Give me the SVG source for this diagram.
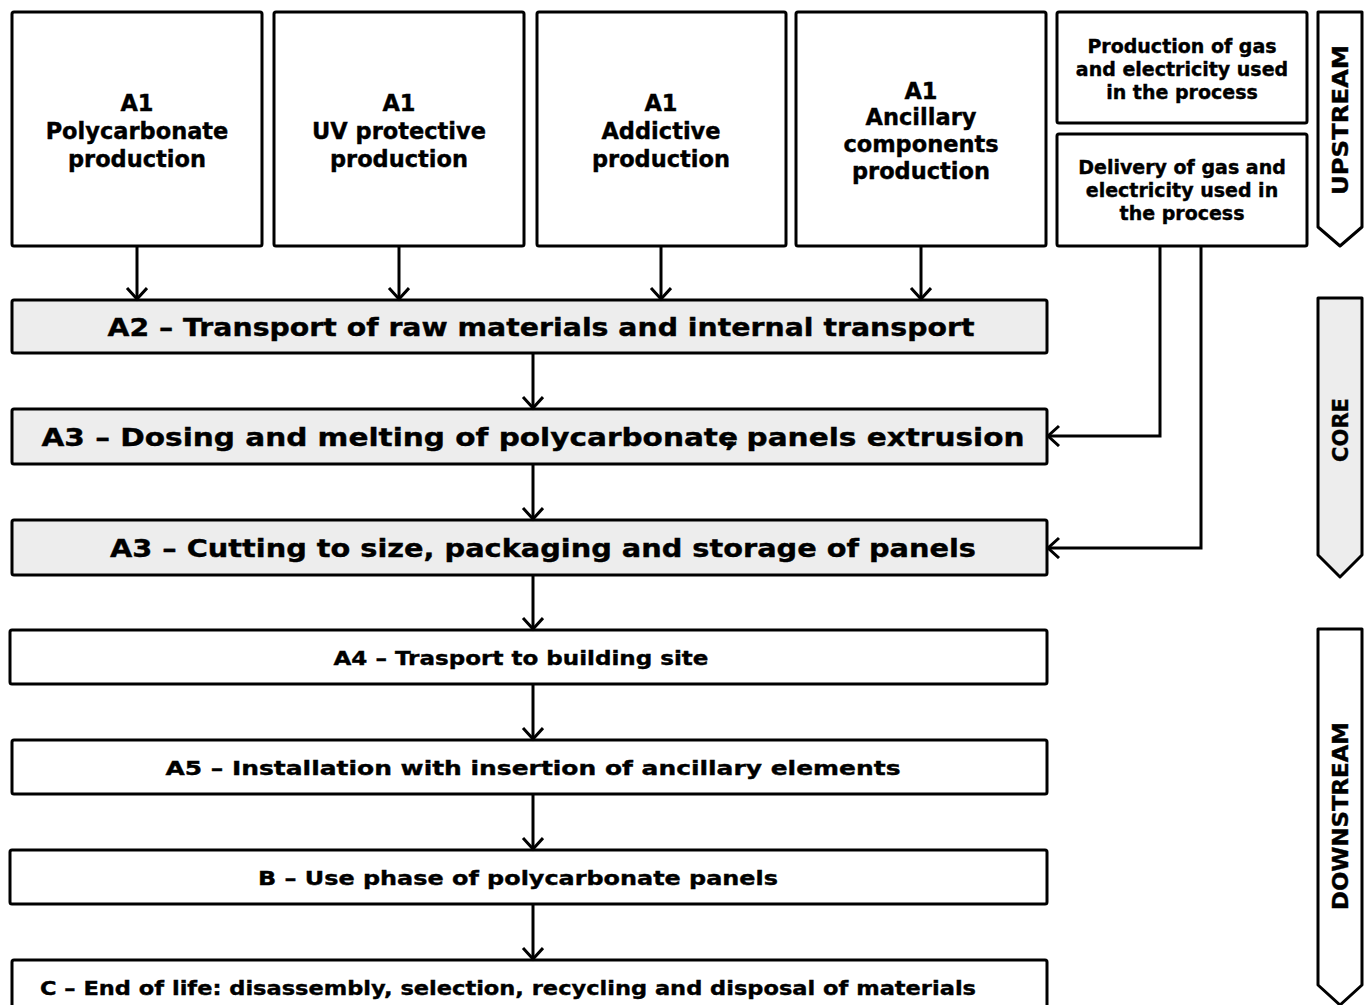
<svg xmlns="http://www.w3.org/2000/svg" width="1369" height="1005" viewBox="0 0 1369 1005">
<style>
.box{fill:#fff;stroke:#000;stroke-width:3;stroke-linejoin:round}
.core{fill:#ededed;stroke:#000;stroke-width:3;stroke-linejoin:round}
.phase{stroke:#000;stroke-width:3;stroke-linejoin:round}
text{font-family:"DejaVu Sans","Verdana",sans-serif;font-weight:bold;fill:#000;stroke:#000;stroke-width:0.4;text-anchor:middle}
.t20{font-size:22.5px}
.t15{font-size:19px}
.t22{font-size:25px}
.t17{font-size:20px}
.lbl{font-size:21px}
.con{fill:none;stroke:#000;stroke-width:3}
</style>
<defs>
<marker id="ah" markerUnits="userSpaceOnUse" markerWidth="26" markerHeight="26" refX="13" refY="11" orient="auto">
<path d="M2,1 L13,11 L2,21" fill="none" stroke="#000" stroke-width="3"/>
</marker>
</defs>

<g id="n-a1-poly"><rect class="box" x="12" y="12" width="250" height="234" rx="2"/>
<text class="t20" x="137" y="111">A1</text><text class="t20" x="137" y="139">Polycarbonate</text><text class="t20" x="137" y="167">production</text></g>
<g id="n-a1-uv"><rect class="box" x="274" y="12" width="250" height="234" rx="2"/>
<text class="t20" x="399" y="111">A1</text><text class="t20" x="399" y="139">UV protective</text><text class="t20" x="399" y="167">production</text></g>
<g id="n-a1-add"><rect class="box" x="537" y="12" width="249" height="234" rx="2"/>
<text class="t20" x="661" y="111">A1</text><text class="t20" x="661" y="139">Addictive</text><text class="t20" x="661" y="167">production</text></g>
<g id="n-a1-anc"><rect class="box" x="796" y="12" width="250" height="234" rx="2"/>
<text class="t20" x="921" y="99">A1</text><text class="t20" x="921" y="125">Ancillary</text><text class="t20" x="921" y="152">components</text><text class="t20" x="921" y="179">production</text></g>
<g id="n-gas-prod"><rect class="box" x="1057" y="12" width="250" height="111" rx="2"/>
<text class="t15" x="1182" y="53">Production of gas</text><text class="t15" x="1182" y="76">and electricity used</text><text class="t15" x="1182" y="99">in the process</text></g>
<g id="n-gas-del"><rect class="box" x="1057" y="134" width="250" height="112" rx="2"/>
<text class="t15" x="1182" y="174">Delivery of gas and</text><text class="t15" x="1182" y="197">electricity used in</text><text class="t15" x="1182" y="220">the process</text></g>

<g id="n-a2"><rect class="core" x="12" y="300" width="1035" height="53" rx="2"/>
<text class="t22" x="541" y="336" textLength="867" lengthAdjust="spacingAndGlyphs">A2 – Transport of raw materials and internal transport</text></g>
<g id="n-a3a"><rect class="core" x="12" y="409" width="1035" height="55" rx="2"/>
<text class="t22" x="533" y="446" textLength="983" lengthAdjust="spacingAndGlyphs">A3 – Dosing and melting of polycarbonate<tspan dx="-11">,</tspan> panels extrusion</text></g>
<g id="n-a3b"><rect class="core" x="12" y="520" width="1035" height="55" rx="2"/>
<text class="t22" x="543" y="557" textLength="866" lengthAdjust="spacingAndGlyphs">A3 – Cutting to size, packaging and storage of panels</text></g>
<g id="n-a4"><rect class="box" x="10" y="630" width="1037" height="54" rx="2"/>
<text class="t17" x="521" y="665" textLength="375" lengthAdjust="spacingAndGlyphs">A4 – Trasport to building site</text></g>
<g id="n-a5"><rect class="box" x="12" y="740" width="1035" height="54" rx="2"/>
<text class="t17" x="533" y="775" textLength="735" lengthAdjust="spacingAndGlyphs">A5 – Installation with insertion of ancillary elements</text></g>
<g id="n-b"><rect class="box" x="10" y="850" width="1037" height="54" rx="2"/>
<text class="t17" x="518" y="885" textLength="520" lengthAdjust="spacingAndGlyphs">B – Use phase of polycarbonate panels</text></g>
<g id="n-c"><rect class="box" x="12" y="960" width="1035" height="60" rx="2"/>
<text class="t17" x="508" y="995" textLength="936" lengthAdjust="spacingAndGlyphs">C – End of life: disassembly, selection, recycling and disposal of materials</text></g>

<g id="phase-upstream"><path class="phase" fill="#fff" d="M1318,12 H1362 V227 L1340,246 L1318,227 Z"/>
<text class="lbl" transform="translate(1348,120) rotate(-90)" textLength="150" lengthAdjust="spacingAndGlyphs">UPSTREAM</text></g>
<g id="phase-core"><path class="phase" fill="#ededed" d="M1318,298 H1362 V555 L1340,577 L1318,555 Z"/>
<text class="lbl" transform="translate(1348,430) rotate(-90)" textLength="64" lengthAdjust="spacingAndGlyphs">CORE</text></g>
<g id="phase-downstream"><path class="phase" fill="#fff" d="M1318,629 H1362 V985 L1340,1005 L1318,985 Z"/>
<text class="lbl" transform="translate(1348,816) rotate(-90)" textLength="188" lengthAdjust="spacingAndGlyphs">DOWNSTREAM</text></g>

<g id="connectors" class="con">
<line x1="137" y1="247" x2="137" y2="299" marker-end="url(#ah)"/>
<line x1="399" y1="247" x2="399" y2="299" marker-end="url(#ah)"/>
<line x1="661" y1="247" x2="661" y2="299" marker-end="url(#ah)"/>
<line x1="921" y1="247" x2="921" y2="299" marker-end="url(#ah)"/>
<line x1="533" y1="354" x2="533" y2="408" marker-end="url(#ah)"/>
<line x1="533" y1="465" x2="533" y2="519" marker-end="url(#ah)"/>
<line x1="533" y1="576" x2="533" y2="629" marker-end="url(#ah)"/>
<line x1="533" y1="685" x2="533" y2="739" marker-end="url(#ah)"/>
<line x1="533" y1="795" x2="533" y2="849" marker-end="url(#ah)"/>
<line x1="533" y1="905" x2="533" y2="959" marker-end="url(#ah)"/>
<polyline points="1160,247 1160,436 1048,436" marker-end="url(#ah)"/>
<polyline points="1201,247 1201,548 1048,548" marker-end="url(#ah)"/>
</g>
</svg>
